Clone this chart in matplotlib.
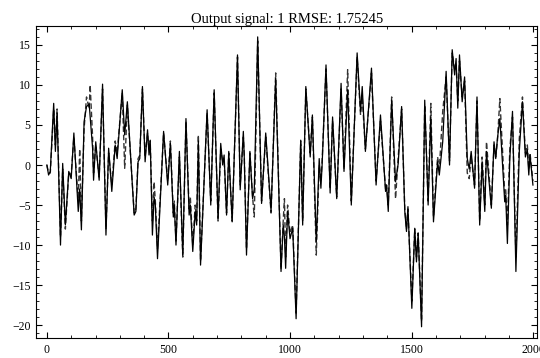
import matplotlib
matplotlib.use("Agg")
import matplotlib.pyplot as plt
from matplotlib.ticker import MultipleLocator

plt.rcParams["font.family"] = ["Liberation Serif", "DejaVu Serif"]

# sample index (turning points)
t = [0, 7, 14, 28, 35, 42, 56, 65, 76, 90, 100, 111, 129, 135, 142, 153, 163, 174, 178, 188,
     192, 201, 215, 229, 243, 254, 267, 281, 289, 306, 310, 320, 331, 359, 366, 375, 382, 393, 404, 414,
     420, 425, 434, 441, 446, 455, 480, 497, 508, 520, 524, 531, 545, 559, 572, 585, 590, 600, 610, 616,
     623, 632, 659, 674, 688, 704, 715, 723, 729, 739, 748, 762, 784, 795, 808, 812, 821, 835, 846, 853,
     867, 883, 900, 922, 941, 963, 972, 977, 982, 990, 1000, 1011, 1025, 1044, 1052, 1065, 1083, 1092, 1108, 1120,
     1127, 1132, 1148, 1165, 1175, 1192, 1210, 1222, 1237, 1252, 1276, 1290, 1297, 1310, 1335, 1354, 1372, 1393, 1397, 1404,
     1418, 1434, 1445, 1459, 1472, 1479, 1485, 1501, 1513, 1520, 1527, 1541, 1554, 1568, 1579, 1590, 1607, 1614, 1628, 1642,
     1656, 1667, 1677, 1683, 1690, 1697, 1708, 1718, 1729, 1737, 1745, 1759, 1769, 1780, 1790, 1801, 1808, 1828, 1839, 1846,
     1853, 1863, 1883, 1887, 1894, 1904, 1915, 1929, 1943, 1956, 1968, 1976, 1982, 1987, 1999]

# solid line
target = [0, -1.25, -0.8, 7.7, 1.7, 6.5, -10.0, 0.2, -7.5, -0.8, -1.7, 4.0, -5.8, -3.0, -8.1, 5.4, 7.3, 7.6, 6.0, 2.1,
          -1.9, 2.9, -1.9, 10.1, -8.75, 2.1, -3.3, 2.5, 0.8, 7.9, 9.4, 3.75, 7.9, -6.25, -5.8, 0.4, 0.8, 9.8, 0.4, 4.4,
          1.25, 3.1, -8.75, -4.0, -5.0, -11.7, 4.2, -2.5, 2.7, -6.5, -5.0, -10.0, 1.7, -11.25, 5.8, -6.25, -5.0, -10.8, -5.8, -7.5,
          3.0, -12.5, 6.9, -5.0, 9.4, -6.7, 2.7, 0.0, 1.25, -6.25, 1.7, -7.1, 13.75, -3.1, 4.2, 0.8, -11.25, 1.7, -4.2, -3.0,
          16.0, -4.8, 4.0, -5.8, 10.8, -13.3, -7.5, -9.0, -12.9, -5.8, -9.2, -7.9, -19.2, 3.1, -7.5, 9.8, 1.0, 6.25, -9.6, 0.8,
          -2.9, 0.0, 12.5, -3.5, 6.0, -4.2, 10.2, -0.8, 9.4, -5.0, 14.0, 6.7, 9.8, 1.7, 12.1, -2.5, 6.25, -3.3, -2.5, -5.8,
          8.1, -2.1, 0.2, 7.3, -5.8, -8.3, -5.2, -17.9, -7.9, -12.1, -8.5, -20.2, 8.1, -5.0, 6.0, -7.1, 0.4, -1.25, 2.9, 11.7,
          0.0, 14.4, 11.25, 13.3, 7.1, 13.75, 7.9, 11.0, 0.8, -0.5, 1.7, -2.9, 8.5, -7.5, 0.4, -5.8, 1.7, -5.4, 2.9, 0.8,
          3.3, 5.8, -4.6, -3.8, -9.8, 0.8, 6.7, -13.3, 1.7, 7.9, 1.0, 1.9, -1.25, 1.25, -2.5]

# dashed line
output = [0, -1.0, -1.0, 7.0, 2.5, 7.0, -9.0, -0.5, -8.0, -1.0, -1.2, 3.5, -4.5, 2.0, -7.0, 4.5, 8.5, 7.0, 10.0, 3.5,
          -1.0, 2.5, -1.5, 9.5, -8.0, 1.5, -2.5, 3.0, 1.5, 7.5, 9.0, -0.4, 7.5, -6.0, -5.5, 0.8, 1.2, 9.5, 1.0, 4.0,
          2.0, 3.0, -7.0, -2.1, -4.5, -10.5, 4.0, -2.0, 3.0, -6.0, -4.5, -9.5, 1.0, -11.5, 5.5, -5.5, -4.0, -10.0, -5.0, -7.0,
          3.75, -12.0, 6.5, -4.5, 9.0, -7.0, 2.0, 0.5, 0.5, -6.0, 1.5, -7.0, 13.5, -2.5, 3.5, 1.0, -10.5, 1.5, -4.0, -6.5,
          15.5, -4.5, 3.5, -6.0, 11.5, -13.0, -7.0, -4.2, -11.5, -5.0, -8.5, -7.5, -18.5, 3.0, -7.0, 9.5, 1.5, 6.0, -11.25, 0.0,
          -2.0, 0.5, 12.0, -3.0, 5.5, -4.0, 9.5, -0.5, 11.9, -4.5, 13.5, 6.25, 8.5, 2.0, 11.5, -2.0, 5.5, -3.0, -2.5, -5.0,
          8.5, -4.2, 1.0, 7.0, -5.5, -8.0, -5.5, -17.0, -8.0, -11.5, -8.5, -19.5, 7.5, -4.5, 7.7, -6.5, 1.0, -0.5, 6.7, 11.0,
          0.5, 14.0, 12.0, 12.5, 8.0, 13.0, 8.5, 10.5, -1.0, -1.7, 1.0, -2.5, 8.0, -7.0, 1.0, -5.0, 2.9, -5.0, 2.5, 1.0,
          3.0, 8.3, -3.5, -3.0, -7.5, 2.0, 6.0, -11.5, 3.3, 8.5, 1.5, 2.5, -0.5, 1.5, -2.0]

fig = plt.figure(figsize=(5.4, 3.58), dpi=100)
ax = fig.add_axes([0.067, 0.056, 0.928, 0.87])

ax.plot(t, output, color="#333333", linestyle=(0, (4, 2)), linewidth=1.0)
ax.plot(t, target, color="black", linewidth=0.9)

ax.set_xlim(-44, 2017)
ax.set_ylim(-21.6, 17.3)
ax.xaxis.set_major_locator(MultipleLocator(500))
ax.xaxis.set_minor_locator(MultipleLocator(100))
ax.yaxis.set_major_locator(MultipleLocator(5))
ax.yaxis.set_minor_locator(MultipleLocator(1))
ax.tick_params(which="both", direction="in", top=True, right=True, labelsize=8.5, pad=4)
ax.tick_params(which="major", length=4, width=0.8)
ax.tick_params(which="minor", length=2.5, width=0.6)

ax.set_title("Output signal: 1 RMSE: 1.75245", fontsize=10.5, pad=2.5)

fig.savefig("out.png")
